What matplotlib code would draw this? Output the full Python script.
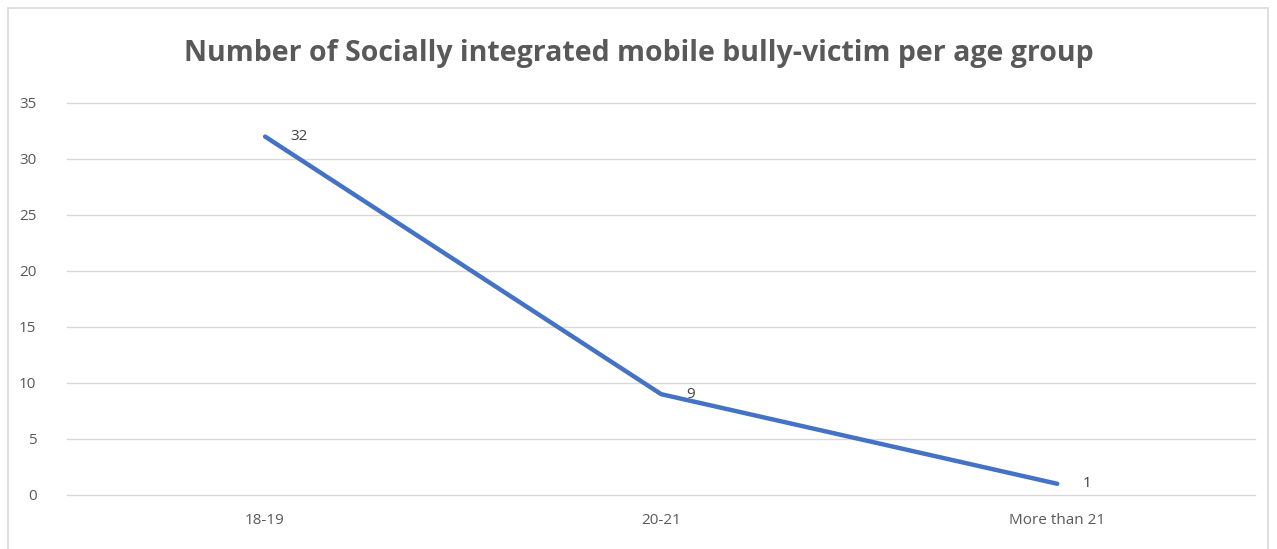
import matplotlib.pyplot as plt
from matplotlib.patches import Rectangle

# Data
age_groups = ["18-19", "20-21", "More than 21"]
victims = [32, 9, 1]
y_ticks = [0, 5, 10, 15, 20, 25, 30, 35]

LINE_COLOR = "#4472C4"
TEXT_COLOR = "#595959"
GRID_COLOR = "#D9D9D9"

fig = plt.figure(figsize=(12.77, 5.49), dpi=100)
ax = fig.add_axes([0.0525, 0.0984, 0.9305, 0.714])

x = range(len(age_groups))
ax.plot(x, victims, color=LINE_COLOR, linewidth=3.2, solid_capstyle="round", zorder=3)

for xi, v in zip(x, victims):
    ax.annotate(str(v), (xi, v), xytext=(18, 0), textcoords="offset points",
                ha="left", va="center", fontsize=11, color="#404040",
                family="Open Sans")

ax.set_xlim(-0.5, len(age_groups) - 0.5)
ax.set_ylim(0, 35)
ax.set_yticks(y_ticks)
ax.set_xticks(list(x))
ax.set_xticklabels(age_groups)
ax.tick_params(axis="both", length=0, labelsize=11, labelcolor=TEXT_COLOR, pad=13)
ax.tick_params(axis="y", pad=22)
for lbl in ax.get_xticklabels() + ax.get_yticklabels():
    lbl.set_family("Open Sans")

ax.grid(axis="y", color=GRID_COLOR, linewidth=1)
for gl in ax.get_ygridlines():
    gl.set_clip_on(False)
ax.set_axisbelow(True)
for side in ["top", "right", "left", "bottom"]:
    ax.spines[side].set_visible(False)

fig.text(0.5, 0.902, "Number of Socially integrated mobile bully-victim per age group",
         ha="center", va="center", fontsize=20.5, fontweight="bold",
         color=TEXT_COLOR, family="Open Sans")

# light chart border
fig.patches.append(Rectangle((8 / 1277, -0.01), 1260 / 1277, 1 - 8 / 549 + 0.01,
                             transform=fig.transFigure, fill=False,
                             edgecolor="#D9D9D9", linewidth=1.2))

fig.savefig("out.png", dpi=100, facecolor="white")
